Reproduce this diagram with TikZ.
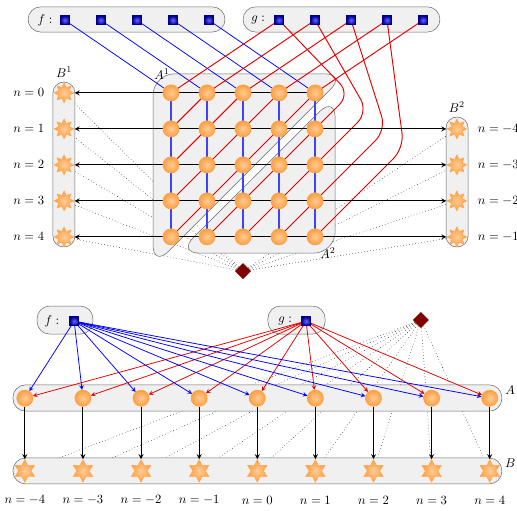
\documentclass[tikz,border=0pt]{standalone}
\usetikzlibrary{shapes.geometric,fit,positioning}
\pgfdeclarelayer{back}
\pgfdeclarelayer{bg}
\pgfdeclarelayer{lines}
\pgfsetlayers{back,bg,lines,main}

\begin{document}
\begin{tikzpicture}[
    dot/.style={circle,draw=orange!75,inner color=orange!40,outer color=orange!75,minimum size=0.45cm,inner sep=0pt},
    sq/.style={rectangle,draw=blue!50!black,inner color=blue!60,outer color=blue!60!black,minimum size=0.25cm,inner sep=0pt},
    startop/.style={star,star points=8,star point ratio=1.7,draw=orange!70,inner color=orange!40,outer color=orange!75,minimum size=0.55cm,inner sep=0pt},
    starbot/.style={startop,star points=6,star point ratio=1.8,minimum size=0.62cm},
    dmd/.style={diamond,fill=red!50!black,minimum size=0.45cm,inner sep=0pt},
    region/.style={draw=black!60,fill=black!6,rounded corners=0.35cm},
    fbox/.style={region,inner sep=0pt},
    bl/.style={draw=blue,semithick},
    rl/.style={draw=red!90!black,line width=0.75pt}
]
    \useasboundingbox (0,0) rectangle (14.36,-14.19);

    % top: grid, f and g
    \foreach \r in {0,...,4}
        \foreach \c in {0,...,4}
            \node[dot] (a-\r-\c) at ({4.75+\c},{-2.58-\r}) {};
    \foreach \k in {1,...,5} {
        \node[sq] (f-\k) at ({0.8+\k},-0.56) {};
        \node[sq] (g-\k) at ({6.75+\k},-0.56) {};
    }
    \node (flab) at (1.25,-0.56) {$f:$};
    \node (glab) at (7.17,-0.56) {$g:$};
    \foreach \r in {0,...,4} {
        \node[startop] (b1-\r) at (1.78,{-2.58-\r}) {};
        \node[left=0.14cm of b1-\r] {$n=\r$};
    }
    \foreach \r in {1,...,4} {
        \pgfmathtruncatemacro\m{\r-5}
        \node[startop] (b2-\r) at (12.69,{-2.58-\r}) {};
        \node[right=0.17cm of b2-\r] {$n=\m$};
    }
    \node[dmd] (d1) at (6.75,-7.53) {};
    \node (lb1) at (1.78,-2.0) {$B^1$};
    \node (lb2) at (12.69,-2.97) {$B^2$};
    \node (la1) at (4.5,-2.06) {$A^1$};
    \node (la2) at (9.11,-7.03) {$A^2$};

    % bottom
    \foreach \k in {0,...,8} {
        \pgfmathtruncatemacro\m{\k-4}
        \node[dot] (A-\k) at ({0.69+1.614*\k},-11.06) {};
        \node[starbot] (B-\k) at ({0.69+1.614*\k},-13.08) {};
        \node (n-\k) at ({0.69+1.614*\k},-13.89) {$n=\m$};
    }
    \node[sq] (fs) at (2.06,-8.92) {};
    \node (fslab) at (1.44,-8.92) {$f:$};
    \node[sq] (gs) at (8.5,-8.92) {};
    \node (gslab) at (7.92,-8.92) {$g:$};
    \node[dmd] (d2) at (11.69,-8.89) {};
    \node (lA) at (14.17,-10.83) {$A$};
    \node (lB) at (14.17,-12.86) {$B$};

    \begin{pgfonlayer}{bg}
        \filldraw[region,rounded corners=0.6cm] (4.25,-2.05) -- (9.61,-2.05) -- (4.25,-7.41) -- cycle;
        \filldraw[region,rounded corners=0.6cm] (9.31,-2.67) -- (9.31,-7.03) -- (4.94,-7.03) -- cycle;
        \node[fbox,fit={(0.78,-0.19) (6.25,-0.89)}] (fbar) {};
        \node[fbox,fit={(6.75,-0.19) (12.22,-0.89)}] (gbar) {};
        \node[fbox,rounded corners=0.3cm,fit={(1.47,-2.28) (2.08,-6.86)}] (boxb1) {};
        \node[fbox,rounded corners=0.3cm,fit={(12.39,-3.25) (13.0,-6.86)}] (boxb2) {};
        \node[fbox,fit={(1.03,-8.5) (2.58,-9.28)}] (fbox2) {};
        \node[fbox,fit={(7.44,-8.5) (9.03,-9.28)}] (gbox2) {};
        \node[fbox,fit={(0.36,-10.69) (13.94,-11.42)}] (boxA) {};
        \node[fbox,fit={(0.36,-12.72) (13.94,-13.44)}] (boxB) {};
    \end{pgfonlayer}

    \begin{pgfonlayer}{back}
        \foreach \r in {0,...,4}
            \draw[dotted] (d1) -- (b1-\r);
        \foreach \r in {1,...,4}
            \draw[dotted] (d1) -- (b2-\r);
        \foreach \k in {0,...,8}
            \draw[dotted] (d2) -- (B-\k);
    \end{pgfonlayer}

    \begin{pgfonlayer}{lines}
        % f to the top row, then down the columns
        \foreach \c [count=\k] in {0,...,4} {
            \draw[bl] (f-\k) -- (a-0-\c);
            \draw[bl,draw=blue!75,line width=0.9pt] (a-0-\c) -- (a-4-\c);
        }
        % diagonals to g
        \foreach \d [count=\k] in {0,...,4}
            \draw[rl] (a-\d-0) -- (a-0-\d) -- (g-\k);
        \foreach \r in {1,...,4}
            \draw[rl,rounded corners=0.4cm] (a-4-\r) -- (a-\r-4) -- ({9.22+0.5*\r},{-2.11-0.5*\r}) -- (g-\r);
        % rows
        \draw[thick,-stealth] (a-0-4) -- (b1-0);
        \foreach \r in {1,...,4}
            \draw[thick,stealth-stealth] (b1-\r) -- (b2-\r);
        % bottom arrows
        \foreach \k in {0,...,8} {
            \draw[bl,-stealth] (fs) -- (A-\k);
            \draw[rl,semithick,-stealth] (gs) -- (A-\k);
            \draw[thick,-stealth] (A-\k) -- (B-\k);
        }
    \end{pgfonlayer}
\end{tikzpicture}
\end{document}
